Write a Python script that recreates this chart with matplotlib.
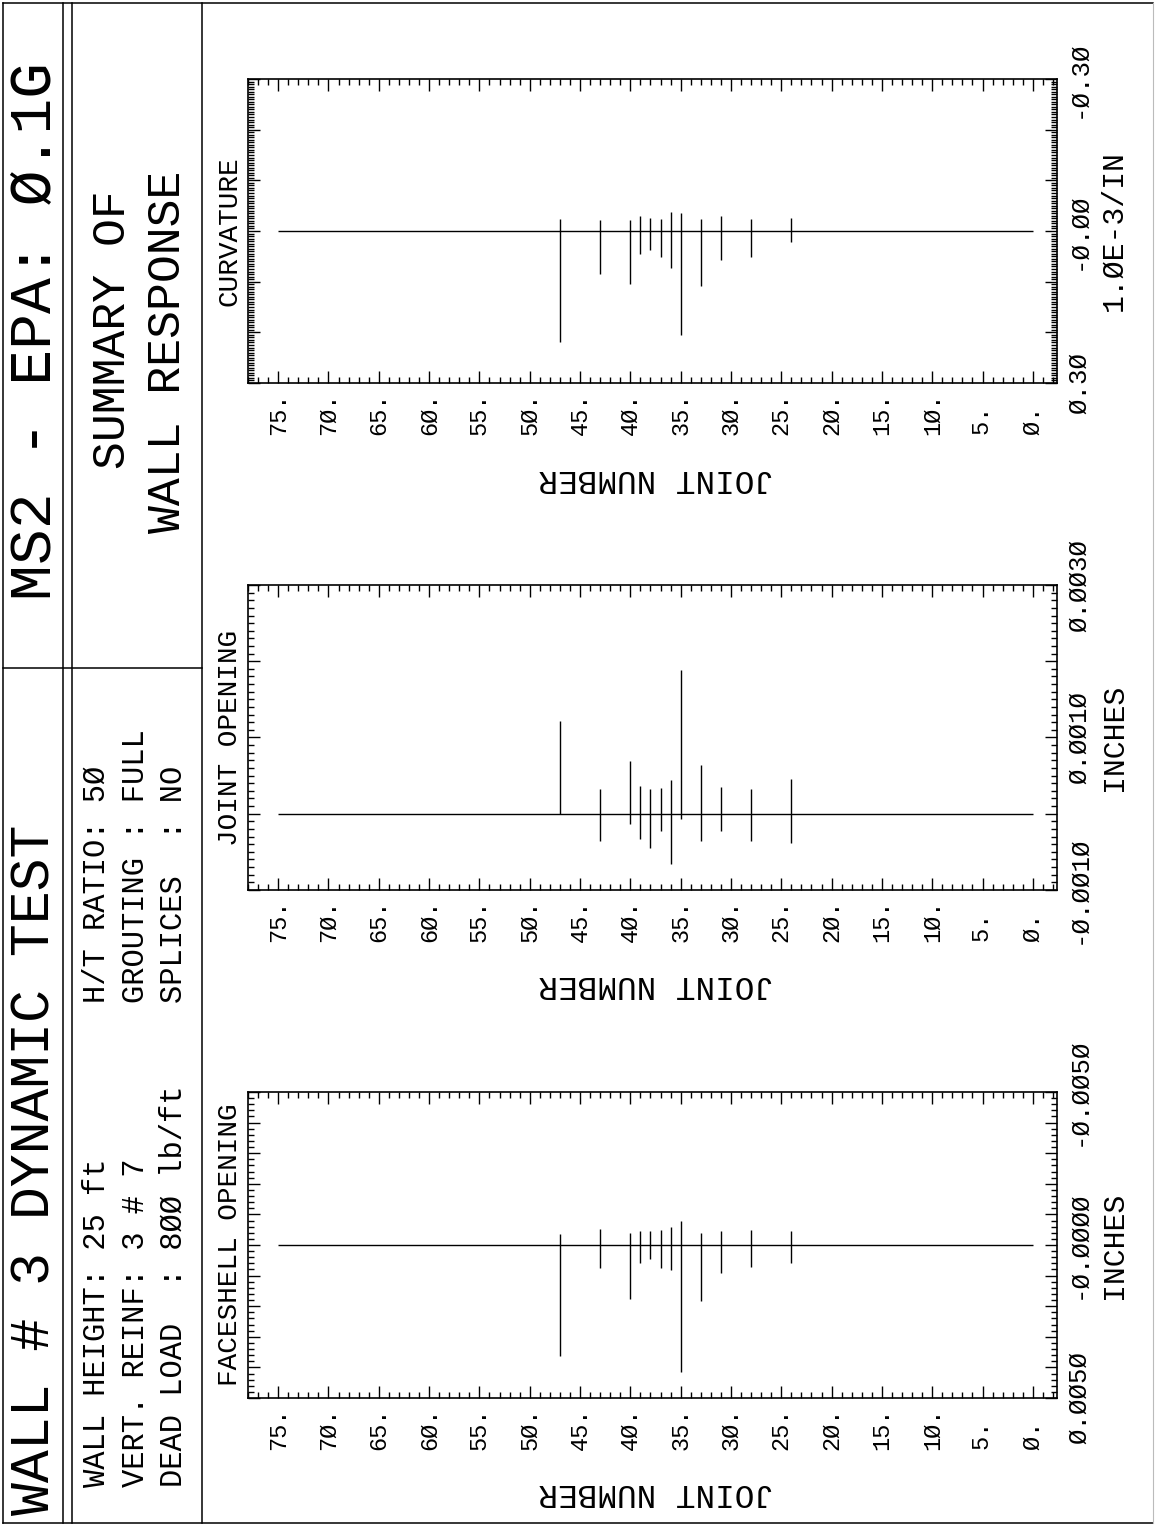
import matplotlib
matplotlib.use("Agg")
import matplotlib.pyplot as plt
from matplotlib.ticker import MultipleLocator, FuncFormatter

plt.rcParams["font.family"] = ["Liberation Mono", "DejaVu Sans Mono"]

W, H = 1157, 1526

# joints with a recorded response (same for the three panels)
joints = [47, 43, 40, 39, 38, 37, 36, 35, 33, 31, 28, 24]

faceshell_min = [-0.00035, -0.00051, -0.00040, -0.00045, -0.00046, -0.00050,
                 -0.00058, -0.00078, -0.00040, -0.00045, -0.00049, -0.00045]
faceshell_max = [0.00362, 0.00076, 0.00178, 0.00060, 0.00047, 0.00076,
                 0.00082, 0.00414, 0.00182, 0.00090, 0.00071, 0.00058]

joint_open_min = [0.0, -0.00036, -0.00014, -0.00033, -0.00045, -0.00023,
                  -0.00066, -0.00007, -0.00036, -0.00023, -0.00036, -0.00039]
joint_open_max = [0.00122, 0.00032, 0.00069, 0.00037, 0.00032, 0.00034,
                  0.00044, 0.00189, 0.00064, 0.00035, 0.00032, 0.00046]

curv_min = [-0.023, -0.021, -0.022, -0.030, -0.026, -0.024,
            -0.038, -0.036, -0.024, -0.030, -0.024, -0.026]
curv_max = [0.219, 0.084, 0.104, 0.046, 0.038, 0.051,
            0.074, 0.206, 0.109, 0.058, 0.051, 0.021]

wall_joints = [75, 0]

joint_ticks = [75, 70, 65, 60, 55, 50, 45, 40, 35, 30, 25, 20, 15, 10, 5, 0]
joint_tick_labels = ["75.", "7Ø.", "65.", "6Ø.", "55.", "5Ø.", "45.", "4Ø.",
                     "35.", "3Ø.", "25.", "2Ø.", "15.", "1Ø.", "5. ", "Ø. "]

faceshell_ticks = [0.005, 0.0, -0.005]
faceshell_labels = ["Ø.ØØ5Ø", "-Ø.ØØØØ", "-Ø.ØØ5Ø"]
joint_open_ticks = [-0.001, 0.001, 0.003]
joint_open_labels = ["-Ø.ØØ1Ø", "Ø.ØØ1Ø", "Ø.ØØ3Ø"]
curv_ticks = [0.3, 0.0, -0.3]
curv_labels = ["Ø.3Ø", "-Ø.ØØ", "-Ø.3Ø"]


def px(v):
    """pixels -> points"""
    return v * 72 / 100


def add_panel(fig, top, bottom, title, unit, ylim, major, minor, ticks, labels,
              vmin, vmax):
    left, right = 248, 1057
    ax = fig.add_axes([left / W, 1 - bottom / H, (right - left) / W, (bottom - top) / H])

    # wall line and the min/max envelope at each joint
    ax.hlines(0, wall_joints[0], wall_joints[1], color="black", lw=1.0)
    ax.vlines(joints, vmin, vmax, color="black", lw=1.0)

    ax.set_xlim(78, -2.4)
    ax.set_ylim(*ylim)

    ax.xaxis.set_major_locator(plt.FixedLocator(joint_ticks))
    ax.xaxis.set_major_formatter(plt.FixedFormatter(joint_tick_labels))
    ax.xaxis.set_minor_locator(MultipleLocator(1))

    def fmt(v, pos):
        for t, s in zip(ticks, labels):
            if abs(v - t) < major * 1e-3:
                return s
        return ""

    ax.yaxis.set_major_locator(MultipleLocator(major))
    ax.yaxis.set_minor_locator(MultipleLocator(minor))
    ax.yaxis.set_major_formatter(FuncFormatter(fmt))

    ax.tick_params(which="both", direction="in", top=True, bottom=True,
                   left=True, right=True, labelleft=False, labelright=True,
                   color="black", width=1.0)
    ax.tick_params(which="major", length=8.5)
    ax.tick_params(which="minor", length=4)
    ax.tick_params(axis="x", labelsize=17, labelrotation=90, pad=7)
    ax.tick_params(axis="y", labelsize=18.5, labelrotation=90, pad=7)
    plt.setp(ax.get_yticklabels(), va="center", ha="left")
    plt.setp(ax.get_xticklabels(), va="top", ha="center")

    for sp in ax.spines.values():
        sp.set_linewidth(1.2)

    ax.annotate(title, xy=(0, 0.5), xycoords="axes fraction",
                xytext=(px(-18), 0), textcoords="offset points",
                rotation=90, ha="center", va="center", fontsize=20)
    ax.annotate("JOINT NUMBER", xy=(0.5, 0), xycoords="axes fraction",
                xytext=(px(4), px(-95)), textcoords="offset points",
                rotation=180, ha="center", va="center", fontsize=23.5)
    ax.annotate(unit, xy=(1, 0.5), xycoords="axes fraction",
                xytext=(px(57), 0), textcoords="offset points",
                rotation=90, ha="center", va="center", fontsize=21.5)
    return ax


fig = plt.figure(figsize=(W / 100, H / 100), dpi=100)

# page frame in pixel coordinates
bg = fig.add_axes([0, 0, 1, 1], zorder=-1)
bg.set_xlim(0, W)
bg.set_ylim(H, 0)
bg.axis("off")
lw = 1.1
bg.plot([3, 1153], [3, 3], color="black", lw=lw)
bg.plot([3, 1153], [1523, 1523], color="black", lw=lw)
bg.plot([3, 3], [3, 1523], color="black", lw=lw)
bg.plot([1153, 1153], [3, 1523], color="#bbbbbb", lw=0.8)
for x in [63, 72, 202]:
    bg.plot([x, x], [3, 1523], color="black", lw=lw)
bg.plot([3, 202], [668, 668], color="black", lw=lw)

bg.text(35, 1515, "WALL # 3 DYNAMIC TEST", rotation=90, rotation_mode="anchor",
        ha="left", va="center", fontsize=39.5)
bg.text(35, 600, "MS2 - EPA: Ø.1G", rotation=90, rotation_mode="anchor",
        ha="left", va="center", fontsize=43)

info_left = ["WALL HEIGHT: 25 ft", "VERT. REINF: 3 # 7", "DEAD LOAD  : 8ØØ lb/ft"]
info_right = ["H/T RATIO: 5Ø", "GROUTING : FULL", "SPLICES  : NO"]
for x, a, b in zip([97, 136, 174], info_left, info_right):
    bg.text(x, 1487, a, rotation=90, rotation_mode="anchor",
            ha="left", va="center", fontsize=22)
    bg.text(x, 1003, b, rotation=90, rotation_mode="anchor",
            ha="left", va="center", fontsize=22)

bg.text(113, 330, "SUMMARY OF", rotation=90, rotation_mode="anchor",
        ha="center", va="center", fontsize=33.5)
bg.text(168, 352, "WALL RESPONSE", rotation=90, rotation_mode="anchor",
        ha="center", va="center", fontsize=33.5)

add_panel(fig, 1092, 1398, "FACESHELL OPENING", "INCHES", (0.005, -0.005),
          0.001, 0.0002, faceshell_ticks, faceshell_labels,
          faceshell_min, faceshell_max)
add_panel(fig, 585, 890, "JOINT OPENING", "INCHES", (-0.001, 0.003),
          0.001, 0.0001, joint_open_ticks, joint_open_labels,
          joint_open_min, joint_open_max)
add_panel(fig, 79, 383, "CURVATURE", "1.ØE-3/IN", (0.3, -0.3),
          0.1, 0.005, curv_ticks, curv_labels, curv_min, curv_max)

fig.savefig("out.png", dpi=100)
